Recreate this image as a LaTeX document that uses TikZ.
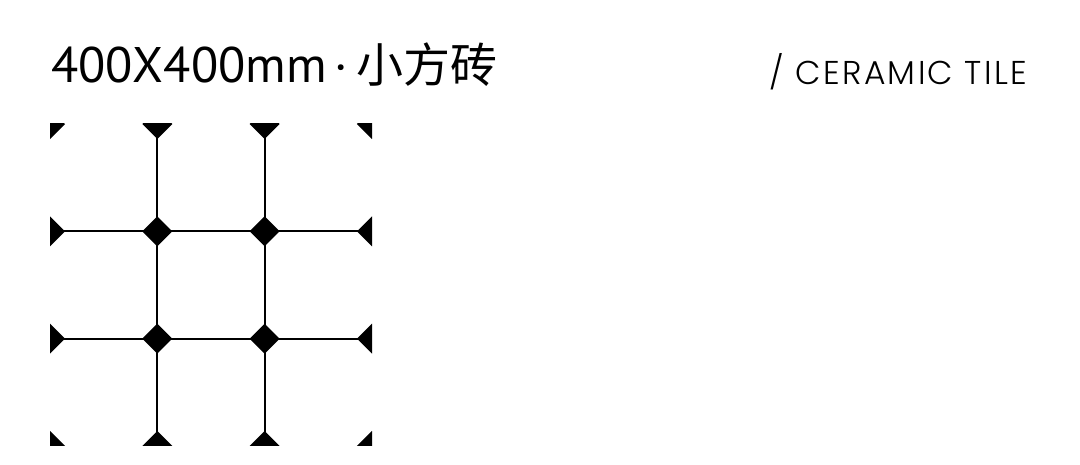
\documentclass[tikz,border=0pt]{standalone}
\usepackage{fontspec}
\setmainfont{PT Sans}
\newfontfamily\cjkfont{Noto Sans CJK SC}
\newfontfamily\tilefont[LetterSpace=7]{Poppins Light}
\usetikzlibrary{positioning}
\tikzset{%
	groutline/.style = {line width=2pt, black},
	dotmark/.style   = {fill=black},
	title/.style     = {inner sep=0pt, anchor=base west, font=\fontsize{50}{50}\selectfont},
	subtitle/.style  = {inner sep=0pt, anchor=base east, font=\tilefont\fontsize{33}{33}\selectfont},
}

\begin{document}
\begin{tikzpicture}[x=1pt,y=1pt]
	\useasboundingbox (0,0) rectangle (1080,465);
	\node[title] (name) at (51,382) {400X400mm\hspace{8pt}·\hspace{8pt}{\cjkfont\fontsize{47}{47}\selectfont 小方砖}};
	\node[subtitle] (kind) at (1027,380) {/ CERAMIC TILE};
	% grout line ends on the tile edge
	\coordinate (L1) at (50,233.7);   \coordinate (R1) at (372,233.7);
	\coordinate (L2) at (50,126.3);   \coordinate (R2) at (372,126.3);
	\coordinate (T1) at (157.3,341);  \coordinate (B1) at (157.3,19);
	\coordinate (T2) at (264.7,341);  \coordinate (B2) at (264.7,19);
	\draw[groutline] (L1) -- (R1);
	\draw[groutline] (L2) -- (R2);
	\draw[groutline] (T1) -- (B1);
	\draw[groutline] (T2) -- (B2);
	% small diamonds, cut by the tile edge
	\begin{scope}
		\clip (50,19) rectangle (372,341);
		\foreach \i in {0,...,3}
			\foreach \j in {0,...,3}
				\fill[dotmark] (50+\i*107.33,19+\j*107.33) +(-15,0) -- +(0,15) -- +(15,0) -- +(0,-15) -- cycle;
	\end{scope}
\end{tikzpicture}
\end{document}
